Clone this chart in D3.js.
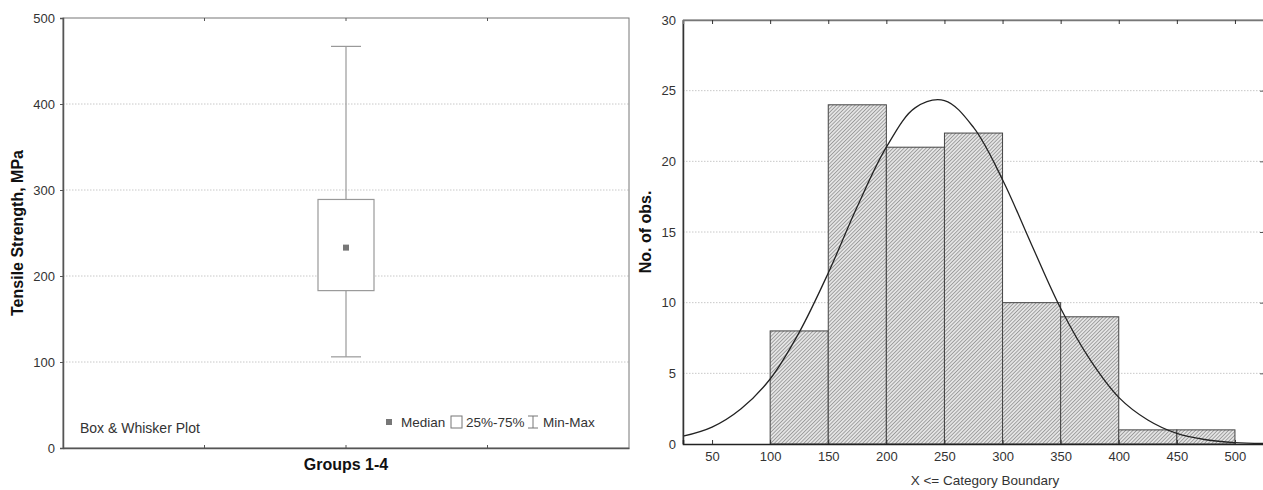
<!DOCTYPE html>
<html>
<head>
<meta charset="utf-8">
<script src="https://cdn.jsdelivr.net/npm/d3@7.9.0/dist/d3.min.js"></script>
<style>
  body { margin: 0; background: #fff; }
  svg text { font-family: "Liberation Sans", Arial, sans-serif; fill: #333; }
  .grid line { stroke: #c8c8c8; stroke-dasharray: 1.5 1.5; }
  .bold { font-weight: bold; fill: #111; }
</style>
</head>
<body>
<svg id="chart" width="1263" height="490"></svg>
<script>
// box plot: Tensile Strength, MPa (Groups 1-4)
const boxGroup = 'Groups 1-4';
const boxStats = { min: 106, q1: 183, median: 233, q3: 289, max: 467 };
const boxTicks = [0, 100, 200, 300, 400, 500];

// histogram: X <= Category Boundary
const binEdges = [100, 150, 200, 250, 300, 350, 400, 450, 500];
const binCounts = [8, 24, 21, 22, 10, 9, 1, 1];
const histXTicks = [50, 100, 150, 200, 250, 300, 350, 400, 450, 500];
const histYTicks = [0, 5, 10, 15, 20, 25, 30];

// fitted normal curve
const curveX = [25, 50, 75, 100, 125, 150, 175, 200, 225, 250, 275, 300, 325, 350, 375, 400, 425, 450, 475, 500, 525];
const curveY = [0.55, 1.2, 2.5, 4.6, 7.9, 12.1, 16.8, 21.0, 23.8, 24.3, 22.4, 18.7, 14.1, 9.6, 6.0, 3.3, 1.7, 0.75, 0.3, 0.1, 0.04];

const svg = d3.select('#chart');

// ---------- left: box & whisker ----------
const L = { left: 63, right: 629, top: 18, bottom: 448 };
const yBox = d3.scaleLinear().domain([0, 500]).range([L.bottom, L.top]);
const xBox = d3.scaleBand().domain([boxGroup]).range([L.left, L.right]);
const cx = xBox(boxGroup) + xBox.bandwidth() / 2;

const gL = svg.append('g');

gL.append('g').attr('class', 'grid')
  .selectAll('line')
  .data(boxTicks.filter((d) => d > 0 && d < 500))
  .join('line')
  .attr('x1', L.left).attr('x2', L.right)
  .attr('y1', (d) => yBox(d)).attr('y2', (d) => yBox(d));

gL.append('rect')
  .attr('x', L.left).attr('y', L.top)
  .attr('width', L.right - L.left).attr('height', L.bottom - L.top)
  .attr('fill', 'none').attr('stroke', '#777').attr('stroke-width', 1);

const yAxisL = gL.append('g')
  .attr('transform', `translate(${L.left},0)`)
  .call(d3.axisLeft(yBox).tickValues(boxTicks).tickSize(3).tickPadding(5));
yAxisL.select('.domain').attr('stroke', '#555').attr('stroke-width', 1.5);
yAxisL.selectAll('line').attr('stroke', '#555');
yAxisL.selectAll('text').attr('font-size', 13).attr('fill', '#444');

const xAxisL = gL.append('g')
  .attr('transform', `translate(0,${L.bottom})`)
  .call(d3.axisBottom(xBox).tickSize(0).tickPadding(11));
xAxisL.select('.domain').attr('stroke', '#555').attr('stroke-width', 1.5);
xAxisL.selectAll('text').attr('class', 'bold').attr('font-size', 16);

// minor ticks at quarters along top and bottom
const qTicks = [0.25, 0.5, 0.75].map((f) => L.left + f * (L.right - L.left));
[L.top, L.bottom].forEach((yy) => {
  gL.append('g').selectAll('line').data(qTicks).join('line')
    .attr('x1', (d) => d).attr('x2', (d) => d)
    .attr('y1', yy).attr('y2', yy === L.top ? yy + 3 : yy - 3)
    .attr('stroke', '#555');
});

// whisker
gL.append('line')
  .attr('x1', cx).attr('x2', cx)
  .attr('y1', yBox(boxStats.min)).attr('y2', yBox(boxStats.max))
  .attr('stroke', '#999').attr('stroke-width', 1.2);
[boxStats.min, boxStats.max].forEach((v) => {
  gL.append('line')
    .attr('x1', cx - 15).attr('x2', cx + 15)
    .attr('y1', yBox(v)).attr('y2', yBox(v))
    .attr('stroke', '#999').attr('stroke-width', 1.2);
});
gL.append('rect')
  .attr('x', cx - 28).attr('width', 56)
  .attr('y', yBox(boxStats.q3)).attr('height', yBox(boxStats.q1) - yBox(boxStats.q3))
  .attr('fill', '#fff').attr('stroke', '#999').attr('stroke-width', 1.2);
gL.append('rect')
  .attr('x', cx - 3).attr('y', yBox(boxStats.median) - 3)
  .attr('width', 6).attr('height', 6)
  .attr('fill', '#777');

gL.append('text')
  .attr('class', 'bold').attr('font-size', 16)
  .attr('text-anchor', 'middle')
  .attr('transform', `translate(23,${(L.top + L.bottom) / 2}) rotate(-90)`)
  .text('Tensile Strength, MPa');

gL.append('text').attr('x', 80).attr('y', 433).attr('font-size', 14).attr('fill', '#444').text('Box & Whisker Plot');

// legend
const lg = gL.append('g').attr('transform', 'translate(0,422)');
lg.append('rect').attr('x', 386).attr('y', -3).attr('width', 6).attr('height', 6).attr('fill', '#777');
lg.append('text').attr('x', 401).attr('y', 5).attr('font-size', 13.5).attr('fill', '#444').text('Median');
lg.append('rect').attr('x', 451).attr('y', -6).attr('width', 11).attr('height', 12)
  .attr('fill', '#fff').attr('stroke', '#777');
lg.append('text').attr('x', 466).attr('y', 5).attr('font-size', 13.5).attr('fill', '#444').text('25%-75%');
lg.append('path').attr('d', 'M528,-6H538M533,-6V6M528,6H538').attr('stroke', '#777').attr('fill', 'none');
lg.append('text').attr('x', 543).attr('y', 5).attr('font-size', 13.5).attr('fill', '#444').text('Min-Max');

// ---------- right: histogram ----------
const R = { left: 683, right: 1264, top: 20, bottom: 444 };
const xH = d3.scaleLinear().domain([25, 525]).range([R.left, R.right]);
const yH = d3.scaleLinear().domain([0, 30]).range([R.bottom, R.top]);

const defs = svg.append('defs');
const pat = defs.append('pattern')
  .attr('id', 'hatch').attr('patternUnits', 'userSpaceOnUse')
  .attr('width', 2.6).attr('height', 2.6)
  .attr('patternTransform', 'rotate(45)');
pat.append('rect').attr('width', 2.6).attr('height', 2.6).attr('fill', '#e4e4e4');
pat.append('line').attr('x1', 0).attr('y1', 0).attr('x2', 0).attr('y2', 2.6)
  .attr('stroke', '#555').attr('stroke-width', 0.9);

const gR = svg.append('g');

gR.append('g').attr('class', 'grid')
  .selectAll('line')
  .data(histYTicks.filter((d) => d > 0 && d < 30))
  .join('line')
  .attr('x1', R.left).attr('x2', R.right)
  .attr('y1', (d) => yH(d)).attr('y2', (d) => yH(d));

const bins = binCounts.map((c, i) => ({ x0: binEdges[i], x1: binEdges[i + 1], count: c }));
gR.append('g').selectAll('rect')
  .data(bins)
  .join('rect')
  .attr('x', (d) => xH(d.x0))
  .attr('width', (d) => xH(d.x1) - xH(d.x0))
  .attr('y', (d) => yH(d.count))
  .attr('height', (d) => yH(0) - yH(d.count))
  .attr('fill', 'url(#hatch)')
  .attr('stroke', '#444').attr('stroke-width', 1);

const line = d3.line()
  .x((d, i) => xH(curveX[i]))
  .y((d) => yH(d))
  .curve(d3.curveCatmullRom);
gR.append('path')
  .attr('d', line(curveY))
  .attr('fill', 'none').attr('stroke', '#222').attr('stroke-width', 1.3);

gR.append('path')
  .attr('d', `M${R.left},${R.bottom}V${R.top}H${R.right}`)
  .attr('fill', 'none').attr('stroke', '#777');

const yAxisR = gR.append('g')
  .attr('transform', `translate(${R.left},0)`)
  .call(d3.axisLeft(yH).tickValues(histYTicks).tickSize(0).tickPadding(7));
yAxisR.select('.domain').attr('stroke', '#333').attr('stroke-width', 1.5);
yAxisR.selectAll('text').attr('font-size', 13).attr('fill', '#444');

const xAxisR = gR.append('g')
  .attr('transform', `translate(0,${R.bottom})`)
  .call(d3.axisBottom(xH).tickValues(histXTicks).tickSize(-4).tickPadding(8));
xAxisR.select('.domain').attr('stroke', '#222').attr('stroke-width', 1.5);
xAxisR.selectAll('line').attr('stroke', '#333');
xAxisR.selectAll('text').attr('font-size', 13).attr('fill', '#444');

const xTop = gR.append('g')
  .attr('transform', `translate(0,${R.top})`)
  .call(d3.axisBottom(xH).tickValues(histXTicks).tickSize(4).tickFormat(''));
xTop.select('.domain').attr('stroke', '#777').attr('stroke-width', 1.5);
xTop.selectAll('line').attr('stroke', '#333');

const yRight = gR.append('g')
  .attr('transform', `translate(${R.right - 1},0)`)
  .call(d3.axisLeft(yH).tickValues(histYTicks.filter((d) => d > 0 && d < 30)).tickSize(3).tickFormat(''));
yRight.select('.domain').remove();
yRight.selectAll('line').attr('stroke', '#555');

gR.append('text')
  .attr('class', 'bold').attr('font-size', 16)
  .attr('text-anchor', 'middle')
  .attr('transform', `translate(651,${(R.top + R.bottom) / 2}) rotate(-90)`)
  .text('No. of obs.');

gR.append('text')
  .attr('x', 985).attr('y', 485)
  .attr('text-anchor', 'middle').attr('font-size', 13.5).attr('fill', '#444')
  .text('X <= Category Boundary');
</script>
</body>
</html>
